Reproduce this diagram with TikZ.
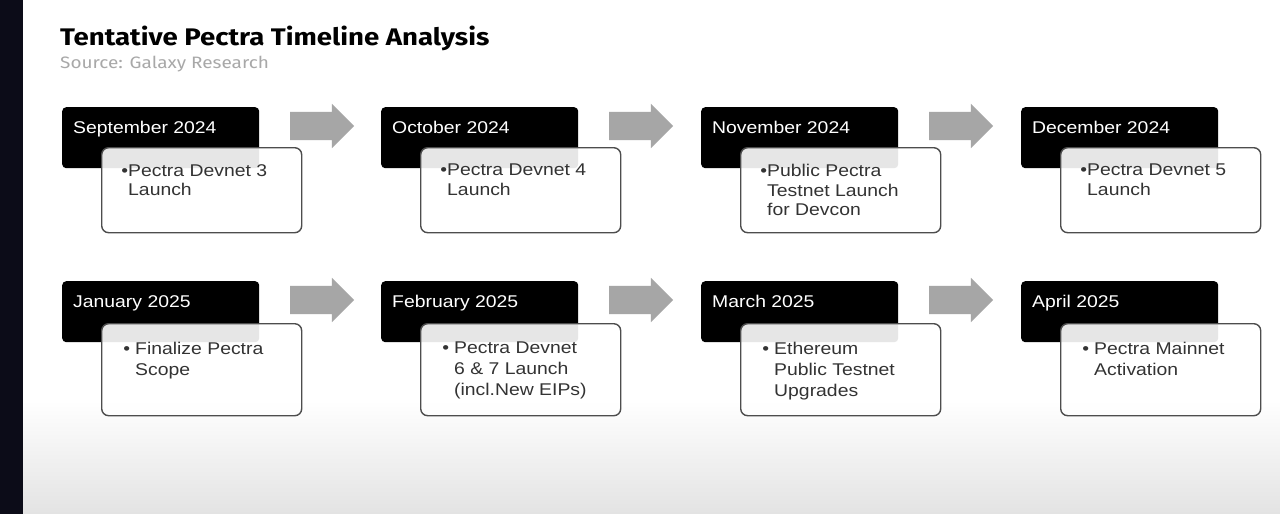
\documentclass[tikz,border=0pt]{standalone}
\usepackage{fontspec}
\setmainfont{Liberation Sans}[FakeStretch=1.14]
\newfontfamily\titlefont{Fira Sans}[FakeStretch=1.15]
\usetikzlibrary{shapes.arrows}
\definecolor{sidebar}{HTML}{0C0C18}
\definecolor{arrowgray}{HTML}{A6A6A6}
\definecolor{bodytext}{HTML}{333333}
\definecolor{boxline}{HTML}{4D4D4D}
\definecolor{sourcegray}{HTML}{A8A8A8}

\begin{document}
\begin{tikzpicture}[x=1pt,y=-1pt,
  monthbox/.style={fill=black, rounded corners=4pt, anchor=north west,
    minimum width=197pt, minimum height=61pt, inner sep=0pt},
  monthtext/.style={anchor=base west, inner sep=0pt, text=white,
    font=\fontsize{17}{20}\selectfont},
  notebox/.style={draw=boxline, line width=1.4pt, fill=white, fill opacity=0.9,
    draw opacity=1, rounded corners=7pt, anchor=north west, minimum width=200pt,
    inner sep=0pt},
  notetext/.style={anchor=north west, inner sep=0pt, align=left, text=bodytext,
    font=\fontsize{17}{19.5}\selectfont},
  notetextb/.style={notetext, font=\fontsize{17}{21}\selectfont},
  steparrow/.style={single arrow, fill=arrowgray, single arrow head extend=8pt,
    single arrow head indent=0pt, minimum height=64pt, text width=0pt,
    text height=14pt, text depth=14pt, inner sep=0pt}]
\useasboundingbox (0,0) rectangle (1280,514);
\fill[white] (0,0) rectangle (1280,514);
\shade[top color=white, bottom color=black!11] (23,400) rectangle (1280,514);
\fill[sidebar] (0,0) rectangle (23,514);

\node[anchor=base west, inner sep=0pt, font=\titlefont\bfseries\fontsize{24}{28}\selectfont]
  (title) at (60,45) {Tentative Pectra Timeline Analysis};
\node[anchor=base west, inner sep=0pt, text=sourcegray, font=\titlefont\fontsize{16.5}{20}\selectfont]
  (source) at (60,68) {Source: Galaxy Research};

% 2024
\node[monthbox] (sep) at (62,107) {};
\node[notebox, minimum height=85pt] (sepnote) at (101,147) {};
\node[monthtext] (seplabel) at (73,133) {September 2024};
\node[notetext] (septext) at (128,164) {\llap{•}Pectra Devnet 3\\Launch};

\node[monthbox] (oct) at (381,107) {};
\node[notebox, minimum height=85pt] (octnote) at (420,147) {};
\node[monthtext] (octlabel) at (392,133) {October 2024};
\node[notetext] (octtext) at (447,164) {\llap{•}Pectra Devnet 4\\Launch};

\node[monthbox] (nov) at (701,107) {};
\node[notebox, minimum height=85pt] (novnote) at (740,147) {};
\node[monthtext] (novlabel) at (712,133) {November 2024};
\node[notetext] (novtext) at (767,164) {\llap{•}Public Pectra\\Testnet Launch\\for Devcon};

\node[monthbox] (dec) at (1021,107) {};
\node[notebox, minimum height=85pt] (decnote) at (1060,147) {};
\node[monthtext] (declabel) at (1032,133) {December 2024};
\node[notetext] (dectext) at (1087,164) {\llap{•}Pectra Devnet 5\\Launch};

% 2025
\node[monthbox] (jan) at (62,281) {};
\node[notebox, minimum height=92pt] (jannote) at (101,323) {};
\node[monthtext] (janlabel) at (73,307) {January 2025};
\node[notetextb] (jantext) at (135,342) {\llap{•\hspace{5pt}}Finalize Pectra\\Scope};

\node[monthbox] (feb) at (381,281) {};
\node[notebox, minimum height=92pt] (febnote) at (420,323) {};
\node[monthtext] (feblabel) at (392,307) {February 2025};
\node[notetextb] (febtext) at (454,342) {\llap{•\hspace{5pt}}Pectra Devnet\\6 \& 7 Launch\\(incl.New EIPs)};

\node[monthbox] (mar) at (701,281) {};
\node[notebox, minimum height=92pt] (marnote) at (740,323) {};
\node[monthtext] (marlabel) at (712,307) {March 2025};
\node[notetextb] (martext) at (774,342) {\llap{•\hspace{5pt}}Ethereum\\Public Testnet\\Upgrades};

\node[monthbox] (apr) at (1021,281) {};
\node[notebox, minimum height=92pt] (aprnote) at (1060,323) {};
\node[monthtext] (aprlabel) at (1032,307) {April 2025};
\node[notetextb] (aprtext) at (1094,342) {\llap{•\hspace{5pt}}Pectra Mainnet\\Activation};

\node[steparrow] (sepoct) at (315,126) {};
\node[steparrow] (octnov) at (634,126) {};
\node[steparrow] (novdec) at (954,126) {};
\node[steparrow] (janfeb) at (315,300) {};
\node[steparrow] (febmar) at (634,300) {};
\node[steparrow] (marapr) at (954,300) {};
\end{tikzpicture}
\end{document}
